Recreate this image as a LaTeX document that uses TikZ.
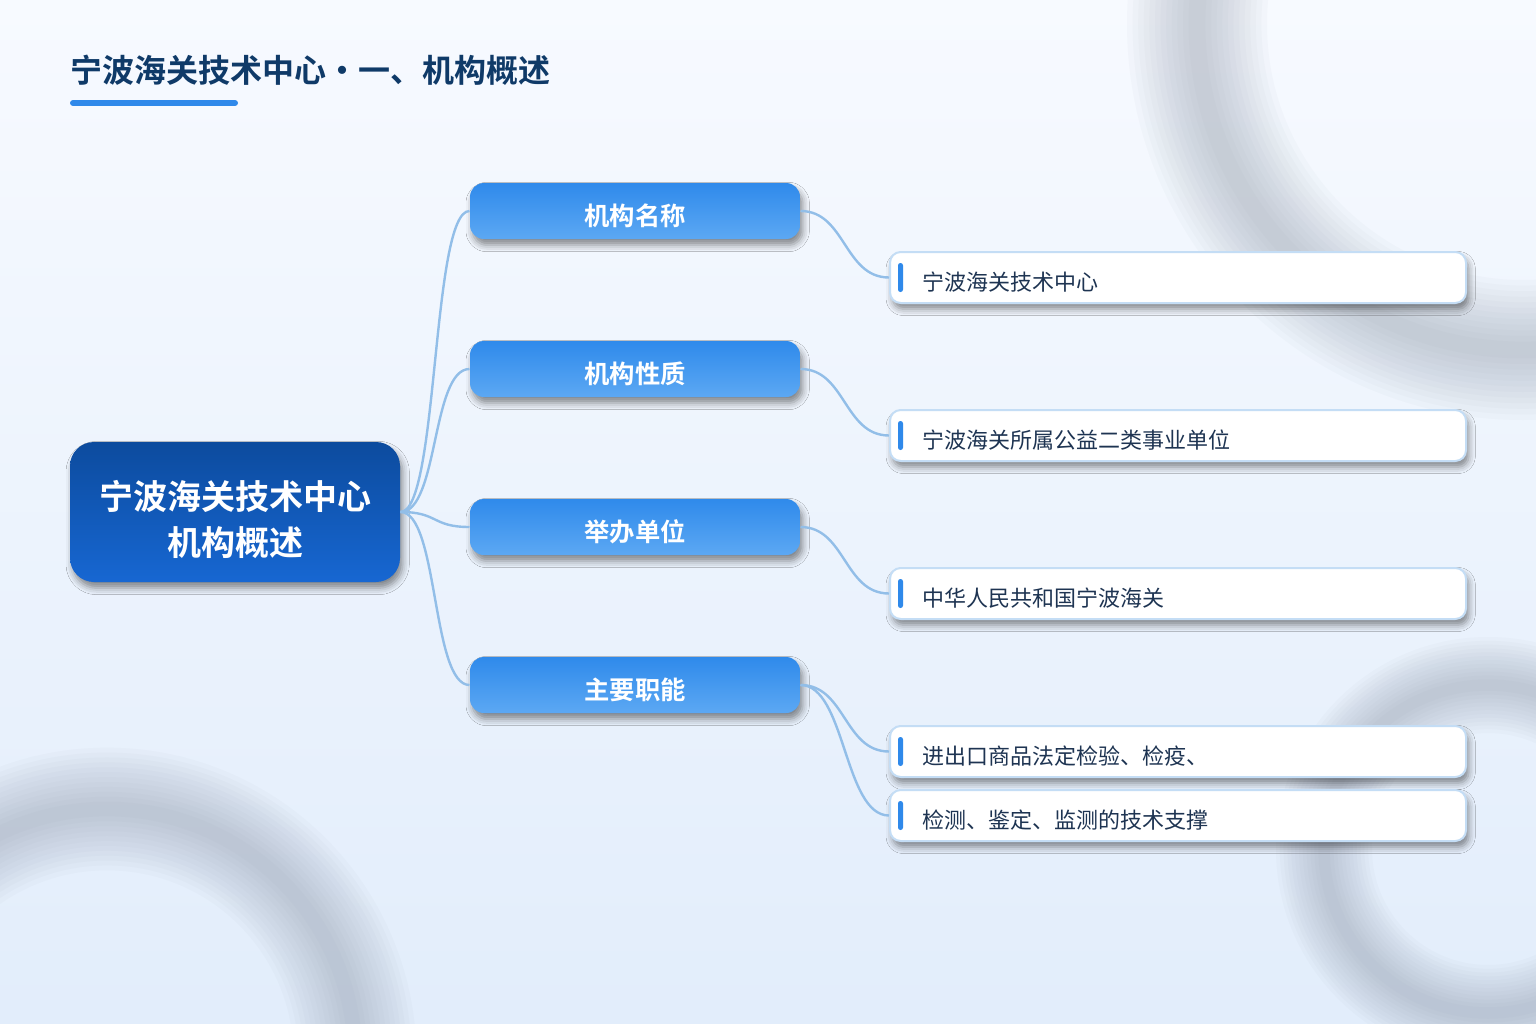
\documentclass[tikz,border=0pt]{standalone}
\usepackage{fontspec}
\setmainfont{Noto Sans CJK SC}[BoldFont={Noto Sans CJK SC Bold}]
\usetikzlibrary{shadows.blur}

\definecolor{titleblue}{RGB}{15,58,104}
\definecolor{lineblue}{RGB}{146,190,232}
\definecolor{barblue}{RGB}{47,137,234}
\definecolor{hubtop}{RGB}{12,75,158}
\definecolor{hubbot}{RGB}{23,103,210}
\definecolor{branchtop}{RGB}{47,138,235}
\definecolor{branchbot}{RGB}{92,168,243}
\definecolor{leafedge}{RGB}{196,221,245}
\definecolor{leaftext}{RGB}{30,52,82}
\definecolor{ringgray}{RGB}{136,146,164}
\definecolor{bgtop}{RGB}{247,250,255}
\definecolor{bgbot}{RGB}{226,237,251}

\tikzset{every picture/.style={line width=0.75pt}}
\tikzset{
  softshadow/.style={blur shadow={shadow xshift=2pt,shadow yshift=-4.5pt,shadow blur radius=5pt,shadow opacity=45}},
  hubbox/.style={rounded corners=18pt,top color=hubtop,bottom color=hubbot,minimum width=247.5pt,minimum height=105pt,text height=65pt,text depth=0pt,align=center,text=white,font=\bfseries\fontsize{25.5}{34.5}\selectfont,softshadow},
  branchbox/.style={rounded corners=10.5pt,top color=branchtop,bottom color=branchbot,minimum width=247.5pt,minimum height=42pt,text height=22pt,text depth=0pt,text=white,font=\bfseries\fontsize{19}{22}\selectfont,softshadow},
  leafbox/.style={rounded corners=8pt,draw=leafedge,line width=1.5pt,fill=white,minimum width=432pt,minimum height=38.25pt,text width=384pt,text height=20pt,text depth=0pt,inner xsep=24pt,align=left,text=leaftext,font=\fontsize{16.5}{20}\selectfont,softshadow},
  leafbar/.style={fill=barblue,rounded corners=1.8pt},
  link/.style={draw=lineblue,line width=1.8pt},
  % blurred ring: stacked faint strokes, #1 = full band width
  ringband/.style={
    preaction={draw=ringgray,opacity=0.04,line width=1.00*#1},
    preaction={draw=ringgray,opacity=0.04,line width=0.92*#1},
    preaction={draw=ringgray,opacity=0.04,line width=0.84*#1},
    preaction={draw=ringgray,opacity=0.04,line width=0.76*#1},
    preaction={draw=ringgray,opacity=0.04,line width=0.68*#1},
    preaction={draw=ringgray,opacity=0.04,line width=0.60*#1},
    preaction={draw=ringgray,opacity=0.04,line width=0.52*#1},
    preaction={draw=ringgray,opacity=0.04,line width=0.44*#1},
    preaction={draw=ringgray,opacity=0.04,line width=0.36*#1},
    preaction={draw=ringgray,opacity=0.04,line width=0.28*#1},
    preaction={draw=ringgray,opacity=0.04,line width=0.20*#1},
    preaction={draw=ringgray,opacity=0.04,line width=0.12*#1}}
}

\begin{document}
\begin{tikzpicture}[x=0.75pt,y=0.75pt,yscale=-1,xscale=1]
	\useasboundingbox (0,0) rectangle (1536,1024);
	\clip (0,0) rectangle (1536,1024);

	%Shape: Background
	\fill [top color=bgtop,bottom color=bgbot] (0,0) rectangle (1536,1024);
	%Shape: Ring top right
	\path [ringband=105pt] (1523,24) circle (326);
	%Shape: Ring bottom right
	\path [ringband=72pt] (1488,849) circle (164);
	%Shape: Ring bottom left
	\path [ringband=92pt] (107,1057) circle (248);

	% Text Node
	\node [anchor=west,inner sep=0pt,text=titleblue,font=\bfseries\fontsize{24}{28}\selectfont] (ttl) at (70,70) {宁波海关技术中心・一、机构概述};
	%Straight Lines
	\draw [barblue,line width=4.5pt,line cap=round] (73,103) -- (235,103);

	%Shape: Rounded Rect
	\node [hubbox] (hub) at (235,512) {宁波海关技术中心\\机构概述};
	%Shape: Rounded Rect
	\node [branchbox] (b1) at (635,211) {机构名称};
	\node [branchbox] (b2) at (635,369) {机构性质};
	\node [branchbox] (b3) at (635,527) {举办单位};
	\node [branchbox] (b4) at (635,685) {主要职能};

	%Shape: Rounded Rect
	\node [leafbox] (l1) at (1178,277.5) {宁波海关技术中心};
	\node [leafbox] (l2) at (1178,435.5) {宁波海关所属公益二类事业单位};
	\node [leafbox] (l3) at (1178,593.5) {中华人民共和国宁波海关};
	\node [leafbox] (l4) at (1178,751.5) {进出口商品法定检验、检疫、};
	\node [leafbox] (l5) at (1178,815.5) {检测、鉴定、监测的技术支撑};
	%Shape: Rectangle
	\fill [leafbar] ([shift={(9,-14.5)}]l1.west) rectangle ([shift={(14,14.5)}]l1.west);
	\fill [leafbar] ([shift={(9,-14.5)}]l2.west) rectangle ([shift={(14,14.5)}]l2.west);
	\fill [leafbar] ([shift={(9,-14.5)}]l3.west) rectangle ([shift={(14,14.5)}]l3.west);
	\fill [leafbar] ([shift={(9,-14.5)}]l4.west) rectangle ([shift={(14,14.5)}]l4.west);
	\fill [leafbar] ([shift={(9,-14.5)}]l5.west) rectangle ([shift={(14,14.5)}]l5.west);

	%Curve Lines
	\draw [link] (hub.east) .. controls +(38,0) and +(-38,0) .. (b1.west);
	\draw [link] (hub.east) .. controls +(38,0) and +(-38,0) .. (b2.west);
	\draw [link] (hub.east) .. controls +(38,0) and +(-38,0) .. (b3.west);
	\draw [link] (hub.east) .. controls +(38,0) and +(-38,0) .. (b4.west);
	%Curve Lines
	\draw [link] (b1.east) .. controls +(45,0) and +(-45,0) .. (l1.west);
	\draw [link] (b2.east) .. controls +(45,0) and +(-45,0) .. (l2.west);
	\draw [link] (b3.east) .. controls +(45,0) and +(-45,0) .. (l3.west);
	\draw [link] (b4.east) .. controls +(45,0) and +(-45,0) .. (l4.west);
	\draw [link] (b4.east) .. controls +(45,0) and +(-45,0) .. (l5.west);

\end{tikzpicture}
\end{document}
